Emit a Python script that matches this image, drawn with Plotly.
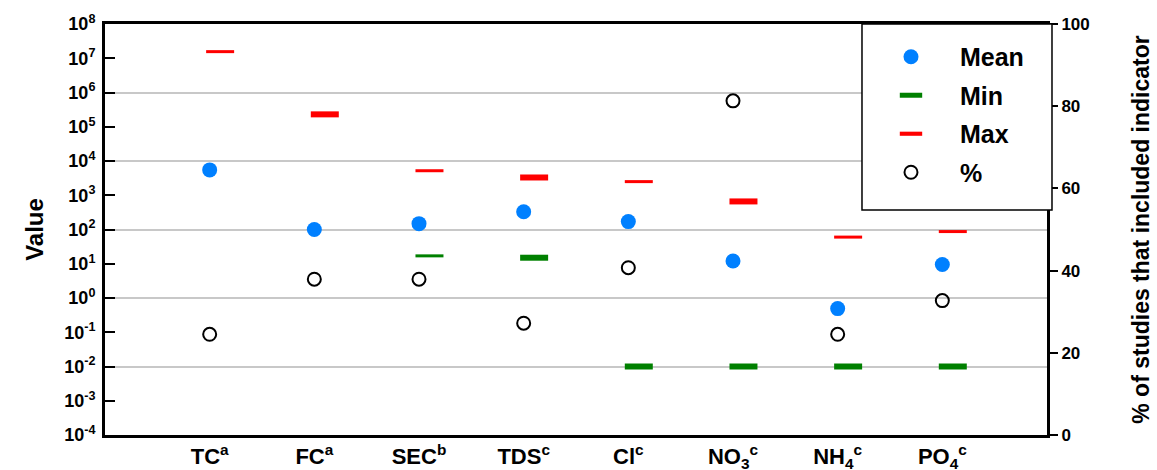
import plotly.graph_objects as go

categories = ["TC<sup>a</sup>", "FC<sup>a</sup>", "SEC<sup>b</sup>", "TDS<sup>c</sup>", "Cl<sup>c</sup>",
              "NO<sub>3</sub><sup>c</sup>", "NH<sub>4</sub><sup>c</sup>", "PO<sub>4</sub><sup>c</sup>"]
mean_vals = [5500, 100, 148, 330, 170, 12, 0.49, 9.5]
min_vals = [None, None, 17, 15, 0.01, 0.01, 0.01, 0.01]
max_vals = [1.56e7, 2.3e5, 5200, 3300, 2500, 660, 60, 87]
pct_vals = [24.5, 37.9, 37.9, 27.2, 40.7, 81.3, 24.5, 32.7]
left_tick_exps = list(range(-4, 9))
right_ticks = [0, 20, 40, 60, 80, 100]

FONT = "Liberation Sans"
xpos = list(range(1, len(categories) + 1))
xoff = [p + 0.1 for p in xpos]

fig = go.Figure()
fig.add_trace(go.Scatter(
    x=xpos, y=mean_vals, mode="markers", name="Mean", legendgroup="a",
    marker=dict(symbol="circle", size=15, color="#0080ff"), yaxis="y"))
fig.add_trace(go.Scatter(
    x=xoff, y=min_vals, mode="markers", name="Min", legendgroup="b",
    marker=dict(symbol="line-ew", size=20, color="#008000",
                line=dict(color="#008000", width=[6, 6, 3, 6, 6, 6, 6, 6])), yaxis="y"))
fig.add_trace(go.Scatter(
    x=xoff, y=max_vals, mode="markers", name="Max", legendgroup="c",
    marker=dict(symbol="line-ew", size=20, color="#ff0000",
                line=dict(color="#ff0000", width=[3, 6, 3, 6, 3, 6, 3, 3])), yaxis="y"))
fig.add_trace(go.Scatter(
    x=xpos, y=pct_vals, mode="markers", name="%", legendgroup="d",
    marker=dict(symbol="circle-open", size=13, color="black", line=dict(width=2)), yaxis="y2"))

# opaque legend box (drawn above data, under the legend entries)
fig.add_shape(type="rect", xref="paper", yref="paper", x0=0.8036, x1=1.0053, y0=0.5474, y1=1.0,
              line=dict(color="black", width=1.5), fillcolor="white", layer="above")

fig.update_layout(
    width=1157, height=470,
    margin=dict(l=105, r=110, t=24, b=35, autoexpand=False),
    paper_bgcolor="white", plot_bgcolor="white",
    font=dict(family=FONT, color="black", weight="bold"),
    showlegend=True,
    legend=dict(x=0.8036, y=0.9757, xanchor="left", yanchor="top",
                borderwidth=0, bgcolor="rgba(0,0,0,0)",
                font=dict(family=FONT, size=25, weight="bold"),
                tracegroupgap=3, itemwidth=88),
    xaxis=dict(range=[0, 9], tickmode="array", tickvals=xpos, ticktext=categories, automargin=False,
               showgrid=False, zeroline=False, showline=True, linewidth=3, linecolor="black",
               mirror=True, ticks="", tickfont=dict(family=FONT, size=22, weight="bold")),
    yaxis=dict(type="log", range=[-4, 8], tickmode="array", automargin=False,
               tickvals=[10.0 ** e for e in left_tick_exps],
               ticktext=["10<sup>%d</sup>" % e for e in left_tick_exps],
               showgrid=False, zeroline=False, showline=True, linewidth=3, linecolor="black",
               mirror=True, ticks="inside", ticklen=10, tickwidth=2, tickcolor="black",
               ticklabelstandoff=3,
               tickfont=dict(family=FONT, size=18, weight="bold"),
               minor=dict(tickmode="array", tickvals=[10.0 ** e for e in left_tick_exps if e % 2 == 0 and -4 < e < 8],
                          showgrid=True, gridcolor="#c8c8c8", gridwidth=1.5, ticks=""),
               title=dict(text="Value", font=dict(family=FONT, size=24, weight="bold"), standoff=14)),
    yaxis2=dict(overlaying="y", side="right", range=[0, 100], tickmode="array", tickvals=right_ticks,
                automargin=False,
                showgrid=False, zeroline=False, showline=True, linewidth=3, linecolor="black",
                ticks="outside", ticklen=8, tickwidth=2, tickcolor="black",
                tickfont=dict(family=FONT, size=17, weight="bold"),
                title=dict(text="% of studies that included indicator",
                           font=dict(family=FONT, size=23, weight="bold"), standoff=45)),
)

fig.write_html("out.html", config={"displayModeBar": False},
               post_script="document.body.style.margin='0';")
